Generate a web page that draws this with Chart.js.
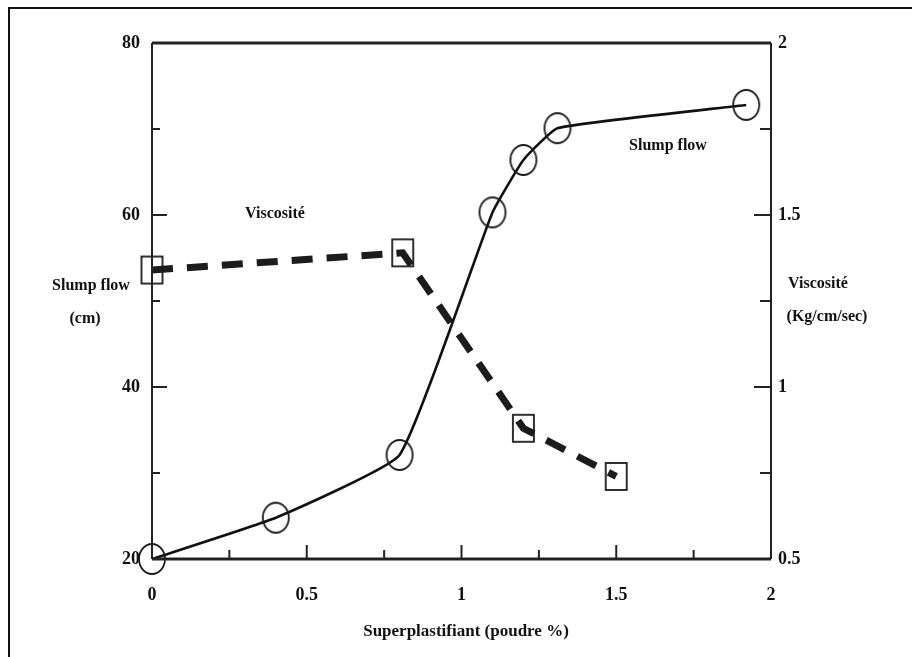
<!DOCTYPE html>
<html>
<head>
<meta charset="utf-8">
<script src="https://cdn.jsdelivr.net/npm/chart.js@4"></script>
<style>
  html,body{margin:0;padding:0;background:#fff;}
  #wrap{position:relative;width:912px;height:657px;overflow:hidden;}
  #frame{position:absolute;left:8px;top:7px;width:1000px;height:1000px;border-left:2px solid #111;border-top:2px solid #111;}
  canvas{position:absolute;left:0;top:0;}
</style>
</head>
<body>
<div id="wrap">
  <div id="frame"></div>
  <canvas id="c" width="912" height="657"></canvas>
</div>
<script>
// ---- data ----
const slumpX = [0, 0.4, 0.8, 1.1, 1.2, 1.31, 1.92];
const slumpY = [20, 24.8, 32.1, 60.3, 66.4, 70.1, 72.8];
const viscX  = [0, 0.81, 1.2, 1.5];
const viscY  = [1.34, 1.39, 0.88, 0.74];
const xTickValues     = [0, 0.5, 1, 1.5, 2];
const leftTickValues  = [20, 40, 60, 80];
const rightTickValues = [0.5, 1, 1.5, 2];
const seriesNames = ['Slump flow', 'Viscosité'];
const xTitle = 'Superplastifiant (poudre %)';
const leftTitle = ['Slump flow', '(cm)'];
const rightTitle = ['Viscosité', '(Kg/cm/sec)'];

const FONT = '"Liberation Serif", "DejaVu Serif", serif';

function ellipseMarker(w, h, lw) {
  const c = document.createElement('canvas');
  c.width = w + 4; c.height = h + 4;
  const g = c.getContext('2d');
  g.strokeStyle = '#1a1a1a'; g.lineWidth = lw;
  g.beginPath(); g.ellipse(c.width / 2, c.height / 2, w / 2, h / 2, 0, 0, Math.PI * 2); g.stroke();
  return c;
}
function rectMarker(w, h, lw) {
  const c = document.createElement('canvas');
  c.width = w + 4; c.height = h + 4;
  const g = c.getContext('2d');
  g.strokeStyle = '#1a1a1a'; g.lineWidth = lw;
  g.strokeRect(2, 2, w, h);
  return c;
}
const circleImg = ellipseMarker(26, 30, 1.8);
const squareImg = rectMarker(21, 27, 1.8);

const decor = {
  id: 'decor',
  afterDraw(chart) {
    const ctx = chart.ctx, a = chart.chartArea;
    const xs = chart.scales.x, yl = chart.scales.y, yr = chart.scales.y1;
    ctx.save();
    ctx.strokeStyle = '#222';
    ctx.lineWidth = 3;
    ctx.beginPath(); ctx.moveTo(a.left, a.top); ctx.lineTo(a.right, a.top); ctx.stroke();
    ctx.beginPath(); ctx.moveTo(a.left, a.bottom); ctx.lineTo(a.right, a.bottom); ctx.stroke();
    ctx.lineWidth = 2;
    ctx.beginPath(); ctx.moveTo(a.left, a.top); ctx.lineTo(a.left, a.bottom); ctx.stroke();
    ctx.beginPath(); ctx.moveTo(a.right, a.top); ctx.lineTo(a.right, a.bottom); ctx.stroke();
    for (let i = 1; i < 8; i++) {
      const v = xs.min + i * 0.25;
      const px = xs.getPixelForValue(v);
      const len = (i % 2 === 0) ? 14 : 9;
      ctx.beginPath(); ctx.moveTo(px, a.bottom); ctx.lineTo(px, a.bottom - len); ctx.stroke();
    }
    for (let v = 30; v < 80; v += 10) {
      const py = yl.getPixelForValue(v);
      const len = (v % 20 === 0) ? 15 : 8;
      ctx.beginPath(); ctx.moveTo(a.left, py); ctx.lineTo(a.left + len, py); ctx.stroke();
    }
    for (let v = 0.75; v < 2; v += 0.25) {
      const py = yr.getPixelForValue(v);
      const len = (Math.abs(v * 2 - Math.round(v * 2)) < 1e-6) ? 17 : 11;
      ctx.beginPath(); ctx.moveTo(a.right, py); ctx.lineTo(a.right - len, py); ctx.stroke();
    }
    ctx.fillStyle = '#111';
    ctx.textAlign = 'center'; ctx.textBaseline = 'middle';
    ctx.font = 'bold 16px ' + FONT;
    ctx.fillText(seriesNames[1], 275, 214);
    ctx.fillText(seriesNames[0], 668, 146);
    ctx.fillText(leftTitle[0], 91, 286);
    ctx.fillText(leftTitle[1], 85, 319);
    ctx.fillText(rightTitle[0], 818, 284);
    ctx.fillText(rightTitle[1], 827, 317);
    ctx.font = 'bold 17px ' + FONT;
    ctx.fillText(xTitle, 466, 632);
    ctx.restore();
  }
};

const tickFont = { family: FONT, weight: 'bold', size: 18 };
const plain = v => String(v);

new Chart(document.getElementById('c'), {
  type: 'scatter',
  data: {
    datasets: [
      {
        label: seriesNames[0],
        data: slumpX.map((x, i) => ({ x, y: slumpY[i] })),
        yAxisID: 'y',
        showLine: true,
        clip: false,
        borderColor: '#111',
        borderWidth: 2.6,
        tension: 0.12,
        pointStyle: circleImg,
        pointRadius: 13
      },
      {
        label: seriesNames[1],
        data: viscX.map((x, i) => ({ x, y: viscY[i] })),
        yAxisID: 'y1',
        showLine: true,
        clip: false,
        borderColor: '#1c1c1c',
        borderWidth: 7,
        borderDash: [21, 14],
        tension: 0,
        pointStyle: squareImg,
        pointRadius: 12
      }
    ]
  },
  options: {
    responsive: false,
    animation: false,
    layout: { padding: { top: 43, left: 0, right: 0, bottom: 0 } },
    plugins: { legend: { display: false }, tooltip: { enabled: false } },
    scales: {
      x: {
        type: 'linear', min: 0, max: 2,
        afterFit(s) { s.height = 98; },
        afterBuildTicks(s) { s.ticks = xTickValues.map(v => ({ value: v })); },
        grid: { display: false, drawTicks: false },
        border: { display: false },
        ticks: { font: tickFont, color: '#111', padding: 26, callback: plain }
      },
      y: {
        type: 'linear', position: 'left', min: 20, max: 80,
        afterFit(s) { s.width = 152; },
        afterBuildTicks(s) { s.ticks = leftTickValues.map(v => ({ value: v })); },
        grid: { display: false, drawTicks: false },
        border: { display: false },
        ticks: { font: tickFont, color: '#111', padding: 12, callback: plain }
      },
      y1: {
        type: 'linear', position: 'right', min: 0.5, max: 2,
        afterFit(s) { s.width = 141; },
        afterBuildTicks(s) { s.ticks = rightTickValues.map(v => ({ value: v })); },
        grid: { display: false, drawTicks: false },
        border: { display: false },
        ticks: { font: tickFont, color: '#111', padding: 7, callback: plain }
      }
    }
  },
  plugins: [decor]
});
</script>
</body>
</html>
